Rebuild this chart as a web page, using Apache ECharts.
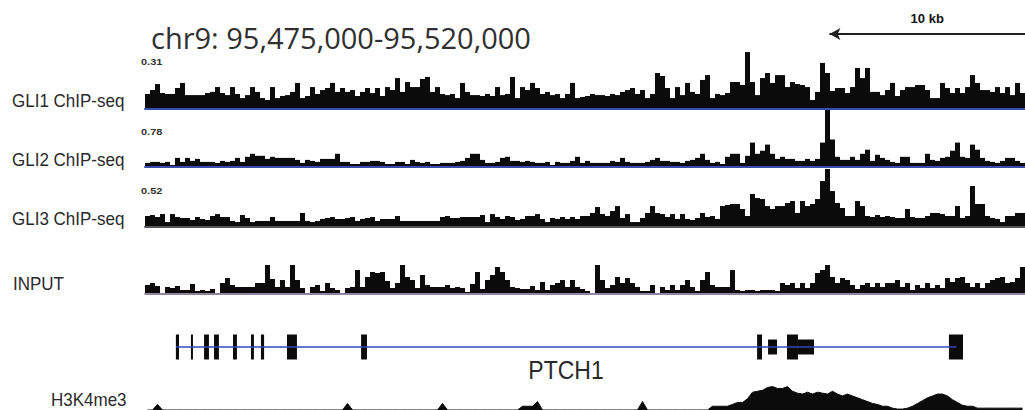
<!DOCTYPE html>
<html>
<head>
<meta charset="utf-8">
<script src="https://cdn.jsdelivr.net/npm/echarts@6/dist/echarts.min.js"></script>
<style>
  html, body { margin: 0; padding: 0; background: #fff; }
  #chart { width: 1025px; height: 410px; }
</style>
</head>
<body>
<div id="chart"></div>
<script>
// region shown
const chrom = 'chr9'
const regionStart = 95475000
const regionEnd = 95520000
const scaleBar = [95510000, 95520000]
const scaleBarLabel = '10 kb'

const trackNames = ['GLI1 ChIP-seq', 'GLI2 ChIP-seq', 'GLI3 ChIP-seq', 'INPUT', 'H3K4me3']
const trackMax = [0.31, 0.78, 0.52]
const inputMax = 30
const h3k4Max = 32

// binned signal, 176 bins across the region
const gli1Signal = [
  0.075, 0.096, 0.128, 0.080, 0.075, 0.075, 0.107, 0.134, 0.069, 0.069,
  0.069, 0.069, 0.080, 0.086, 0.112, 0.080, 0.069, 0.112, 0.075, 0.053,
  0.069, 0.112, 0.086, 0.053, 0.043, 0.112, 0.053, 0.064, 0.069, 0.086,
  0.134, 0.053, 0.064, 0.112, 0.075, 0.096, 0.107, 0.134, 0.086, 0.107,
  0.086, 0.096, 0.064, 0.086, 0.107, 0.080, 0.107, 0.064, 0.112, 0.096,
  0.160, 0.086, 0.139, 0.112, 0.112, 0.155, 0.166, 0.086, 0.112, 0.075,
  0.069, 0.075, 0.053, 0.134, 0.086, 0.069, 0.069, 0.064, 0.075, 0.064,
  0.112, 0.069, 0.075, 0.166, 0.053, 0.112, 0.096, 0.134, 0.107, 0.075,
  0.086, 0.069, 0.075, 0.053, 0.075, 0.134, 0.053, 0.059, 0.064, 0.075,
  0.069, 0.069, 0.064, 0.075, 0.069, 0.086, 0.096, 0.107, 0.075, 0.096,
  0.053, 0.075, 0.187, 0.171, 0.107, 0.053, 0.112, 0.069, 0.134, 0.086,
  0.075, 0.150, 0.176, 0.053, 0.075, 0.069, 0.080, 0.139, 0.139, 0.123,
  0.299, 0.139, 0.069, 0.160, 0.187, 0.134, 0.176, 0.176, 0.112, 0.139,
  0.128, 0.123, 0.112, 0.043, 0.086, 0.241, 0.187, 0.091, 0.107, 0.107,
  0.080, 0.112, 0.214, 0.160, 0.214, 0.086, 0.086, 0.069, 0.096, 0.134,
  0.064, 0.096, 0.112, 0.112, 0.123, 0.123, 0.096, 0.053, 0.053, 0.134,
  0.107, 0.080, 0.107, 0.080, 0.112, 0.176, 0.134, 0.096, 0.096, 0.086,
  0.112, 0.080, 0.112, 0.069, 0.134, 0.080
]
const gli2Signal = [
  0.043, 0.057, 0.057, 0.043, 0.057, 0.014, 0.113, 0.057, 0.113, 0.071,
  0.099, 0.057, 0.057, 0.057, 0.043, 0.071, 0.057, 0.071, 0.113, 0.057,
  0.128, 0.170, 0.142, 0.142, 0.099, 0.128, 0.113, 0.113, 0.113, 0.113,
  0.085, 0.043, 0.085, 0.071, 0.057, 0.099, 0.099, 0.099, 0.170, 0.057,
  0.057, 0.028, 0.028, 0.057, 0.057, 0.071, 0.071, 0.057, 0.028, 0.028,
  0.057, 0.057, 0.028, 0.085, 0.057, 0.043, 0.057, 0.028, 0.028,
  0.043, 0.043, 0.043, 0.057, 0.071, 0.113, 0.170, 0.170, 0.085, 0.043,
  0.043, 0.057, 0.113, 0.128, 0.071, 0.071, 0.057, 0.071, 0.057, 0.043,
  0.043, 0.057, 0.014, 0.057, 0.043, 0.043, 0.071, 0.128, 0.043, 0.071,
  0.043, 0.043, 0.043, 0.043, 0.071, 0.057, 0.113, 0.057, 0.043, 0.043,
  0.043, 0.057, 0.085, 0.113, 0.071, 0.071, 0.057, 0.057, 0.043, 0.071,
  0.085, 0.113, 0.170, 0.085, 0.043, 0.057, 0.028,
  0.128, 0.170, 0.170, 0.043, 0.142, 0.326, 0.170, 0.213, 0.298, 0.170,
  0.099, 0.128, 0.099, 0.099, 0.071, 0.071, 0.099, 0.071, 0.099, 0.326,
  0.780, 0.369, 0.128, 0.085, 0.085, 0.128, 0.085, 0.170, 0.227, 0.071,
  0.156, 0.113, 0.085, 0.057, 0.043, 0.128, 0.128, 0.043, 0.043, 0.043,
  0.170, 0.085, 0.071, 0.113, 0.128, 0.213, 0.326, 0.128, 0.113, 0.298,
  0.227, 0.113, 0.071, 0.057, 0.043, 0.071, 0.113, 0.113, 0.071, 0.043
]
const gli3Signal = [
  0.091, 0.100, 0.082, 0.109, 0.036, 0.109, 0.082, 0.073, 0.073, 0.055,
  0.082, 0.064, 0.055, 0.091, 0.109, 0.082, 0.082, 0.046, 0.036, 0.100,
  0.073, 0.036, 0.046, 0.046, 0.046, 0.082, 0.046, 0.046, 0.046, 0.046,
  0.046, 0.119, 0.046, 0.036, 0.046, 0.064, 0.073, 0.082, 0.064, 0.064,
  0.073, 0.082, 0.046, 0.064, 0.073, 0.082, 0.046, 0.064, 0.064, 0.064,
  0.091, 0.046, 0.046, 0.046, 0.046, 0.046, 0.046, 0.046, 0.046,
  0.082, 0.091, 0.073, 0.073, 0.082, 0.082, 0.082, 0.082, 0.100, 0.036,
  0.109, 0.082, 0.064, 0.091, 0.082, 0.055, 0.064, 0.091, 0.091, 0.109,
  0.064, 0.036, 0.073, 0.064, 0.082, 0.064, 0.082, 0.064, 0.091, 0.091,
  0.119, 0.173, 0.109, 0.091, 0.137, 0.182, 0.073, 0.109, 0.036, 0.036,
  0.073, 0.119, 0.182, 0.119, 0.109, 0.082, 0.109, 0.064, 0.109, 0.064,
  0.055, 0.073, 0.119, 0.082, 0.091, 0.064, 0.182,
  0.192, 0.201, 0.201, 0.155, 0.091, 0.292, 0.255, 0.246, 0.182, 0.155,
  0.182, 0.182, 0.210, 0.228, 0.119, 0.228, 0.182, 0.201, 0.246, 0.410,
  0.520, 0.319, 0.210, 0.164, 0.091, 0.091, 0.228, 0.182, 0.091, 0.082,
  0.100, 0.082, 0.091, 0.082, 0.073, 0.073, 0.155, 0.082, 0.073, 0.073,
  0.091, 0.119, 0.119, 0.109, 0.091, 0.091, 0.182, 0.073, 0.091, 0.365,
  0.201, 0.201, 0.091, 0.073, 0.064, 0.036, 0.091, 0.091, 0.119, 0.119
]
const inputSignal = [
  8, 10, 7, 0, 6, 5, 7, 3, 3, 9,
  2, 3, 2, 4, 0, 10, 15, 8, 6, 6,
  6, 6, 10, 10, 28, 14, 6, 13, 6, 28,
  13, 5, 0, 6, 8, 2, 10, 5, 3, 0,
  5, 6, 23, 6, 16, 21, 20, 21, 12, 5,
  10, 28, 16, 13, 5, 18, 8, 6, 6, 6,
  8, 5, 6, 5, 1, 9, 21, 4, 13, 18,
  26, 21, 13, 6, 5,
  4, 4, 7, 3, 11, 3, 8, 10, 13, 6,
  13, 6, 4, 2, 0, 28, 13, 5, 8, 16,
  10, 15, 10, 6, 2, 2, 8, 0, 6, 3,
  8, 3, 8, 13, 6, 2, 13, 21, 8, 6,
  6, 6, 23, 3, 2, 3, 3, 2, 3, 3,
  3, 2, 10, 8, 10, 5, 10, 5, 10, 20,
  23, 28, 16, 10, 15, 13, 8, 4, 8, 10,
  6, 10, 6, 10, 10, 13, 6, 10, 3, 8,
  5, 10, 5, 8, 5, 15, 11, 15, 16, 10,
  6, 10, 5, 10, 13, 15, 16, 10, 11, 15, 26
]
const h3k4Signal = [
  0, 0, 6, 0, 0, 0, 0, 0, 0, 0,
  0, 0, 0, 0, 0, 0, 0, 0, 0, 0,
  0, 0, 0, 0, 0, 0, 0, 0, 0, 0,
  0, 0, 0, 0, 0, 0, 0, 0, 0, 0,
  7, 0, 0, 0, 0, 0, 0, 0, 0, 0,
  0, 0, 0, 0, 0, 0, 0, 0, 0, 7,
  0, 0, 0, 0, 0, 0, 0, 0, 0, 0,
  0, 0, 0, 0, 0, 4, 4, 4, 9, 0,
  0, 0, 0, 0, 0, 0, 0, 0, 0, 0,
  0, 0, 0, 0, 0, 0, 0, 0, 0, 9,
  0, 0, 0, 0, 0, 0, 0, 0, 0, 0,
  0, 0, 0, 4, 4, 4, 4, 6, 8, 8,
  12, 19, 20, 21, 24, 25, 23, 23, 25, 20,
  18, 17, 19, 17, 19, 18, 17, 20, 17, 15,
  17, 15, 13, 11, 9, 7, 6, 4, 4, 2,
  1, 1, 2, 4, 7, 10, 13, 15, 17, 17,
  15, 11, 8, 5, 4, 4, 2, 2, 2, 2,
  2, 2, 2, 2, 2, 2
]

// gene model
const geneName = 'PTCH1'
const geneSpan = [95476580, 95516500]
const exonStarts = [95476580, 95477350, 95478020, 95478530, 95479500, 95480420, 95480930,
  95482260, 95486050, 95506300, 95506860, 95507830, 95508390, 95516110]
const exonEnds = [95476740, 95477430, 95478270, 95478780, 95479700, 95480570, 95481090,
  95482770, 95486350, 95506550, 95507320, 95508390, 95509210, 95516830]
const exonCoding = [1, 1, 1, 1, 1, 1, 1, 1, 1, 1, 0, 1, 0, 1]

const chart = echarts.init(document.getElementById('chart'), null, { renderer: 'svg' })

const LEFT = 145
const ink = '#0b0b0b'
const barTracks = [
  { data: gli1Signal, max: trackMax[0], top: 50, height: 58, line: '#3a4cae', width: 2 },
  { data: gli2Signal, max: trackMax[1], top: 110, height: 56, line: '#3a4cae', width: 2 },
  { data: gli3Signal, max: trackMax[2], top: 169, height: 57, line: '#55555c', width: 2 },
  { data: inputSignal, max: inputMax, top: 263, height: 30, line: '#6a5d7e', width: 1.5 }
]

const grid = []
const xAxis = []
const yAxis = []
const series = []

barTracks.forEach((t, i) => {
  grid.push({ left: LEFT, right: 0, top: t.top, height: t.height })
  xAxis.push({
    gridIndex: i, type: 'category', position: 'bottom', offset: 1,
    axisLine: { onZero: false, lineStyle: { color: t.line, width: t.width } },
    axisTick: { show: false }, axisLabel: { show: false }, splitLine: { show: false }
  })
  yAxis.push({ gridIndex: i, type: 'value', min: 0, max: t.max, show: false })
  series.push({
    type: 'bar', xAxisIndex: i, yAxisIndex: i, data: t.data,
    barCategoryGap: '0%', barGap: '0%', itemStyle: { color: ink }
  })
})

// H3K4me3 (grid 4)
grid.push({ left: LEFT, right: 0, top: 380, height: 32 })
xAxis.push({ gridIndex: 4, type: 'category', show: false })
yAxis.push({ gridIndex: 4, type: 'value', min: 0, max: h3k4Max, show: false })
series.push({
  type: 'line', xAxisIndex: 4, yAxisIndex: 4, data: h3k4Signal, symbol: 'none',
  lineStyle: { color: ink, width: 1 }, areaStyle: { color: ink, opacity: 1 }
})

// gene model (grid 5)
grid.push({ left: LEFT, right: 0, top: 330, height: 34 })
xAxis.push({ gridIndex: 5, type: 'value', min: regionStart, max: regionEnd, show: false })
yAxis.push({ gridIndex: 5, type: 'value', min: -1, max: 1, show: false })
series.push({
  type: 'line', xAxisIndex: 5, yAxisIndex: 5, symbol: 'none',
  data: [[geneSpan[0], 0], [geneSpan[1], 0]],
  lineStyle: { color: '#3348b4', width: 1.5 }
})
series.push({
  type: 'custom', xAxisIndex: 5, yAxisIndex: 5,
  data: exonStarts.map((s, i) => [s, exonEnds[i], exonCoding[i]]),
  encode: { x: [0, 1] },
  renderItem (params, api) {
    const a = api.coord([api.value(0), 0])
    const b = api.coord([api.value(1), 0])
    const h = api.value(2) ? 25 : 15
    return {
      type: 'rect',
      shape: { x: a[0], y: a[1] - h / 2, width: Math.max(b[0] - a[0], 2), height: h },
      style: { fill: ink }
    }
  }
})

// scale bar (grid 6)
grid.push({ left: LEFT, right: 0, top: 28, height: 12 })
xAxis.push({ gridIndex: 6, type: 'value', min: regionStart, max: regionEnd, show: false })
yAxis.push({ gridIndex: 6, type: 'value', min: -1, max: 1, show: false })
series.push({
  type: 'line', xAxisIndex: 6, yAxisIndex: 6, symbol: 'none',
  data: [[scaleBar[0], 0], [scaleBar[1], 0]],
  lineStyle: { width: 0 },
  markLine: {
    silent: true,
    symbol: ['arrow', 'none'],
    symbolSize: [9, 11],
    lineStyle: { color: '#222', width: 2, type: 'solid' },
    label: {
      show: true, position: 'middle', formatter: scaleBarLabel, distance: 9,
      color: '#111', fontWeight: 'bold', fontSize: 13, fontFamily: 'Liberation Sans'
    },
    data: [[{ coord: [scaleBar[0], 0] }, { coord: [scaleBar[1], 0] }]]
  }
})

function text (str, x, y, font, opts) {
  opts = opts || {}
  return {
    type: 'text', x: x, y: y, scaleY: opts.scaleY || 1, silent: true,
    style: {
      text: str, font: font, fill: opts.color || '#2a2a2a',
      align: opts.align || 'left', verticalAlign: 'middle'
    }
  }
}

const fmt = n => n.toLocaleString('en-US')
const labelFont = '17px "Liberation Sans", Arial, sans-serif'
const smallFont = 'bold 11px "Liberation Sans", Arial, sans-serif'

const graphic = [
  text(chrom + ': ' + fmt(regionStart) + '-' + fmt(regionEnd), 151, 37, '29px "Open Sans", sans-serif', { color: '#303030' }),
  text(trackNames[0], 12, 101, labelFont, { scaleY: 1.1 }),
  text(trackNames[1], 12, 160, labelFont, { scaleY: 1.1 }),
  text(trackNames[2], 12, 219, labelFont, { scaleY: 1.1 }),
  text(trackNames[3], 13, 284, labelFont, { scaleY: 1.1 }),
  text(trackNames[4], 51, 400, labelFont, { scaleY: 1.1 }),
  text(String(trackMax[0]), 141, 62, smallFont, { scaleY: 0.75, color: '#333' }),
  text(String(trackMax[1]), 141, 132, smallFont, { scaleY: 0.75, color: '#333' }),
  text(String(trackMax[2]), 141, 191, smallFont, { scaleY: 0.75, color: '#333' }),
  text(geneName, 566, 370, '23px "Liberation Sans", Arial, sans-serif', { scaleY: 1.15, align: 'center' })
]

chart.setOption({
  animation: false,
  backgroundColor: '#fff',
  grid: grid,
  xAxis: xAxis,
  yAxis: yAxis,
  series: series,
  graphic: graphic
})
</script>
</body>
</html>
